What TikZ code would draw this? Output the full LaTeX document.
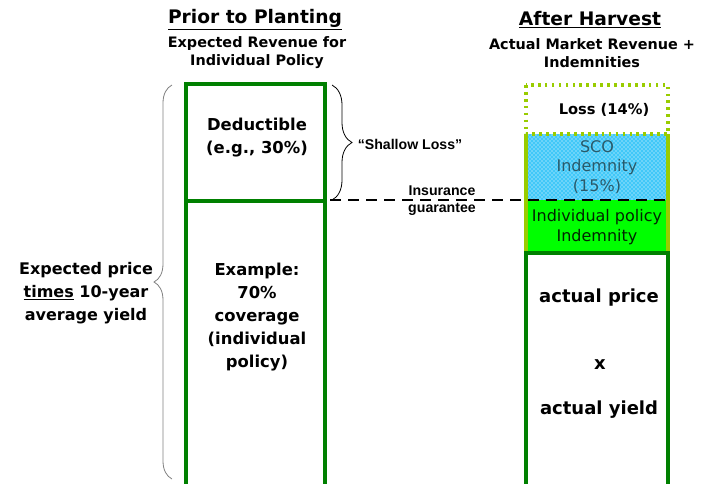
\documentclass[tikz,border=0pt]{standalone}
\usepackage{fontspec}
\setmainfont{DejaVu Sans}
\newfontfamily\arialfont{Liberation Sans}
\usetikzlibrary{patterns,decorations.pathreplacing}
\definecolor{dkgreen}{HTML}{008000}
\definecolor{ygreen}{HTML}{99CC00}
\definecolor{brightgreen}{HTML}{00FF00}
\definecolor{scoblue}{HTML}{40C8F8}
\definecolor{scotext}{HTML}{2A5A6A}
\tikzset{
  leftbox/.style={draw=dkgreen, line width=2.4pt},
  ybord/.style={draw=ygreen, line width=2.4pt},
  dotbord/.style={draw=ygreen, line width=2.4pt, dash pattern=on 2pt off 3.2pt},
  guar/.style={draw=black, line width=1.9pt, dash pattern=on 8.5pt off 5pt},
  title/.style={font=\bfseries\fontsize{14pt}{16pt}\selectfont, align=center},
  subtitle/.style={font=\bfseries\fontsize{10.8pt}{13.5pt}\selectfont, align=center},
  boxtext/.style={font=\bfseries\fontsize{12.3pt}{17.3pt}\selectfont, align=center},
  righttext/.style={font=\fontsize{12pt}{14.5pt}\selectfont, align=center},
  heavy/.style={font=\bfseries\fontsize{13.5pt}{16pt}\selectfont, align=center},
  note/.style={font=\arialfont\bfseries\fontsize{10.6pt}{13.5pt}\selectfont, align=center},
  bracestyle/.style={decorate, line width=0.6pt}
}
\begin{document}
\begin{tikzpicture}[x=0.75pt,y=-0.75pt]
\useasboundingbox (0,0) rectangle (711,483);
\clip (0,0) rectangle (711,483);

% titles
\node[title] (t1) at (255,20) {\underline{Prior to Planting}};
\node[subtitle] (s1) at (257,53) {Expected Revenue for\\Individual Policy};
\node[title] (t2) at (590,20) {\underline{After Harvest}};
\node[subtitle] (s2) at (592,53) {Actual Market Revenue +\\Indemnities};

% left column
\draw[leftbox] (186,84) rectangle (325,520);
\draw[leftbox] (186,201) -- (325,201);
\node[boxtext] (ded) at (257,138) {Deductible\\(e.g., 30\%)};
\node[boxtext] (ex) at (257,317) {Example:\\70\%\\coverage\\(individual\\policy)};

% right column
\fill[scoblue] (526,134) rectangle (668,200);
\fill[pattern=crosshatch dots, pattern color=white] (526,134) rectangle (668,200);
\fill[brightgreen] (526,200) rectangle (668,253);
\draw[ybord] (526,134) -- (526,253);
\draw[ybord] (668,134) -- (668,253);
\draw[dotbord] (526,85) rectangle (668,134);
\draw[leftbox] (526,520) -- (526,253) -- (668,253) -- (668,520);
\node[font=\bfseries\fontsize{11pt}{12pt}\selectfont] (loss) at (604,110) {Loss (14\%)};
\node[righttext, text=scotext] (sco) at (597,167) {SCO\\Indemnity\\(15\%)};
\node[righttext, text=black!85!green] (ind) at (597,227) {Individual policy\\Indemnity};
\node[heavy] (ap) at (599,298) {actual price};
\node[heavy] (xx) at (600,365) {x};
\node[heavy] (ay) at (599,410) {actual yield};

% guarantee line
\coordinate (g1) at (330,200);
\coordinate (g2) at (668,200);
\draw[guar] (g1) -- (g2);
\node[note] (ig1) at (442,191) {Insurance};
\node[note] (ig2) at (442,209) {guarantee};

% braces
\coordinate (lb1) at (172,479);
\coordinate (lb2) at (172,85);
\draw[bracestyle, draw=gray, decoration={brace, amplitude=13.5pt}] (lb1) -- (lb2);
\node[boxtext, font=\bfseries\fontsize{12pt}{17.3pt}\selectfont] (ep) at (86,293) {Expected price\\\underline{times} 10-year\\average yield};

\coordinate (rb1) at (332,85);
\coordinate (rb2) at (332,200);
\draw[bracestyle, draw=black, decoration={brace, amplitude=15pt}] (rb1) -- (rb2);
\node[note] (sl) at (410,144) {“Shallow Loss”};
\end{tikzpicture}
\end{document}
